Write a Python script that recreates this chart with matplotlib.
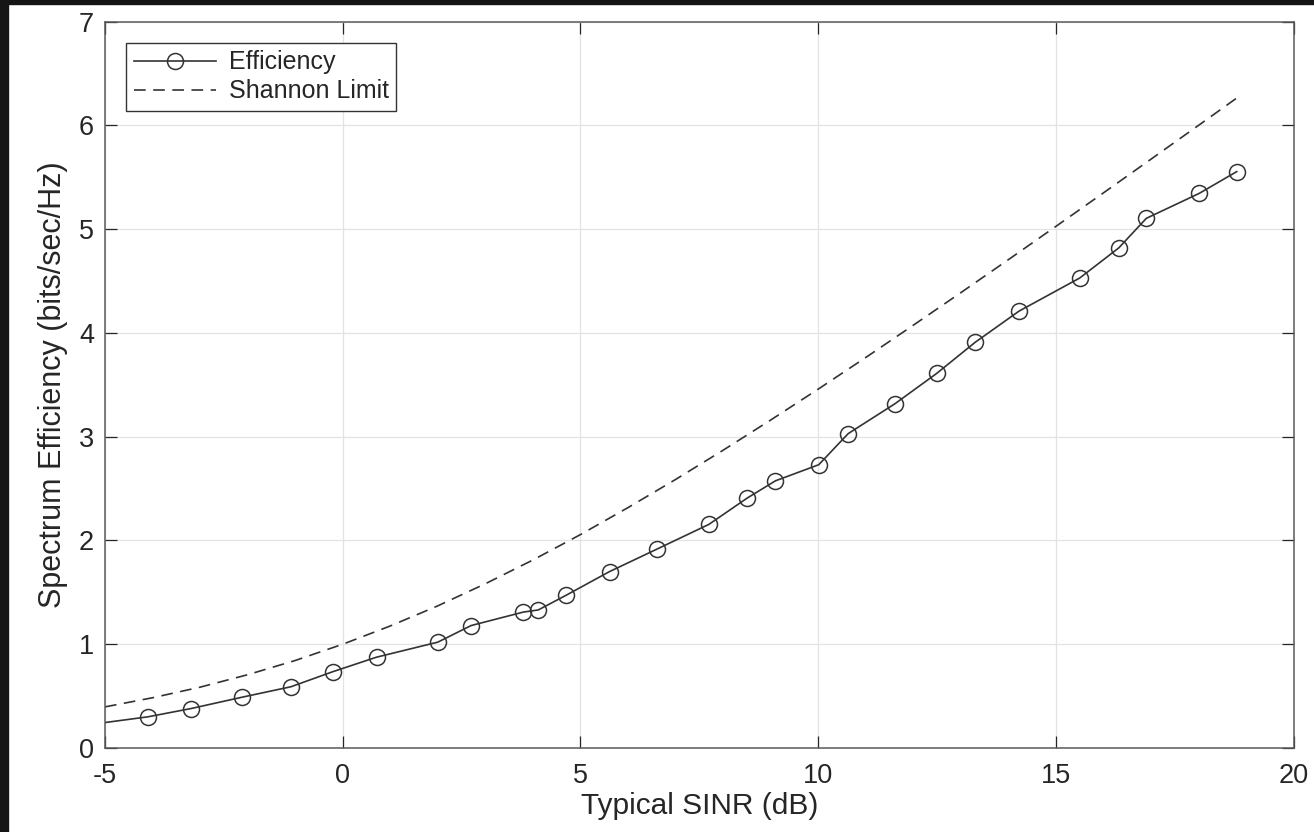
import matplotlib
matplotlib.use("Agg")
import numpy as np
from matplotlib import pyplot as plt
from matplotlib.patches import Rectangle

# Efficiency curve (first point has no marker, it only starts the line at the axis edge)
sinr_eff = [-5.0, -4.10, -3.19, -2.11, -1.09, -0.21, 0.71, 2.00, 2.70, 3.80, 4.11,
            4.69, 5.61, 6.60, 7.70, 8.51, 9.10, 10.01, 10.63, 11.62, 12.49, 13.30,
            14.22, 15.50, 16.32, 16.90, 18.01, 18.80]
efficiency = [0.245, 0.30, 0.38, 0.49, 0.59, 0.735, 0.875, 1.02, 1.18, 1.31, 1.33,
              1.47, 1.70, 1.915, 2.155, 2.41, 2.575, 2.73, 3.03, 3.32, 3.61, 3.91,
              4.21, 4.53, 4.82, 5.105, 5.345, 5.555]

# Shannon limit
sinr_shannon = [-5, -4, -3, -2, -1, 0, 1, 2, 3, 4, 5, 6, 7, 8, 9, 10, 11, 12, 13,
                14, 15, 16, 17, 18, 18.8]
shannon = [0.396, 0.484, 0.586, 0.706, 0.843, 1.0, 1.176, 1.370, 1.583, 1.812,
           2.057, 2.317, 2.588, 2.870, 3.161, 3.459, 3.764, 4.075, 4.389, 4.707,
           5.028, 5.351, 5.676, 6.002, 6.264]

x_ticks = [-5, 0, 5, 10, 15, 20]
y_ticks = [0, 1, 2, 3, 4, 5, 6, 7]

plt.rcParams['font.family'] = ['Liberation Sans', 'DejaVu Sans']
plt.rcParams['axes.unicode_minus'] = False
txt = '#262626'

fig = plt.figure(figsize=(13.14, 8.32), dpi=100)
fig.patch.set_facecolor('white')
ax = fig.add_axes([0.0799, 0.1010, 0.9047, 0.8729])

ax.plot(sinr_eff, efficiency, color='#333333', lw=1.2, marker='o', markersize=11.5,
        markerfacecolor='none', markeredgecolor='#333333', markeredgewidth=1.1,
        markevery=list(range(1, len(sinr_eff))), label='Efficiency')
ax.plot(sinr_shannon, shannon, color='#333333', lw=1.2, ls=(0, (7, 4.5)),
        label='Shannon Limit')

ax.set_xlim(-5, 20)
ax.set_ylim(0, 7)
ax.set_xticks(x_ticks)
ax.set_yticks(y_ticks)
ax.grid(True, color='#e3e3e3', lw=0.9)
ax.set_axisbelow(True)

ax.tick_params(direction='in', length=8.5, width=0.9, colors=txt, labelsize=19.5,
               top=True, right=True, pad=8)
ax.tick_params(axis='x', pad=11)
for sp in ax.spines.values():
    sp.set_color('#5a5a5a')
    sp.set_linewidth(1.1)

ax.set_xlabel('Typical SINR (dB)', fontsize=21.5, color=txt, labelpad=2)
ax.set_ylabel('Spectrum Efficiency (bits/sec/Hz)', fontsize=22, color=txt, labelpad=8)

leg = ax.legend(loc='upper left', fontsize=18, borderaxespad=0.85, borderpad=0.3,
                labelspacing=0.2, handlelength=3.3, handletextpad=0.5, fancybox=False,
                framealpha=1, edgecolor='#333333')
leg.get_frame().set_linewidth(1.0)
for t in leg.get_texts():
    t.set_color(txt)

# dark strips along the top and left edge of the screenshot
fig.add_artist(Rectangle((0, 1 - 4 / 832), 1, 4 / 832, transform=fig.transFigure,
                         color='#151515', zorder=10))
fig.add_artist(Rectangle((0, 0), 8 / 1314, 1, transform=fig.transFigure,
                         color='#151515', zorder=10))

fig.savefig('out.png', dpi=100)
